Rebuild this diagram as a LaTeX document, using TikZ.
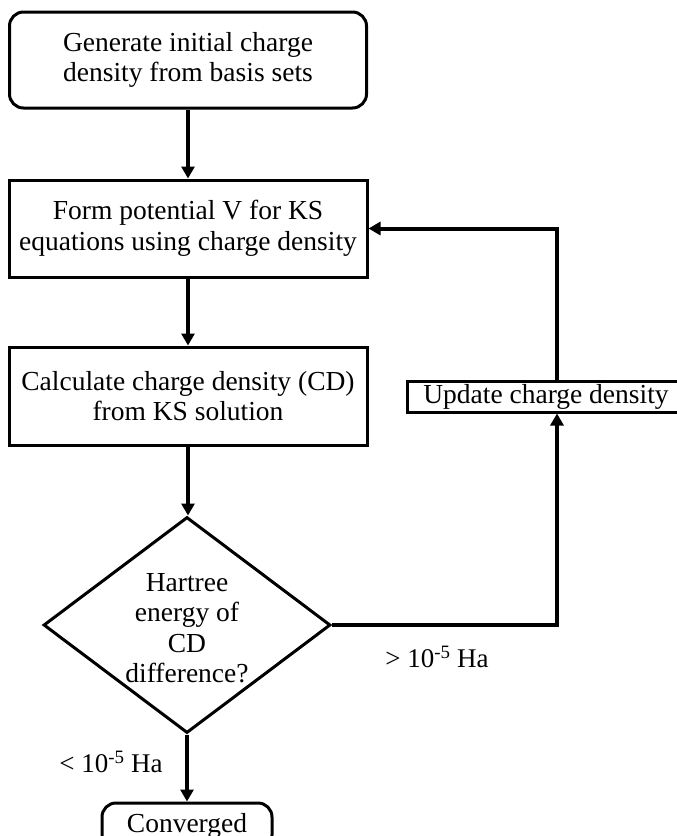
\documentclass[tikz,border=0pt]{standalone}
\usepackage{fontspec}
\setmainfont{Liberation Serif}
\usetikzlibrary{shapes.geometric,arrows.meta}
\begin{document}
\begin{tikzpicture}[x=1pt,y=-1pt,
  every node/.style={font=\fontsize{27.5}{30.5}\selectfont, align=center, inner sep=0pt},
  box/.style={draw, line width=3pt, minimum width=#1, fill=white},
  rbox/.style={box=#1, rounded corners=14pt},
  dia/.style={draw, diamond, line width=3pt, minimum width=287pt, minimum height=216pt, inner sep=0pt},
  conn/.style={line width=4pt, -{Triangle[width=13pt,length=12pt]}},
  lbl/.style={font=\fontsize{27}{30}\selectfont}
]
\clip (0,0) rectangle (677,836);
\fill[white] (0,0) rectangle (677,836);

\node[rbox=357pt, minimum height=96pt] (g1) at (188,60) {Generate initial charge\\density from basis sets};
\node[box=358pt, minimum height=97pt] (f2) at (188,228.5) {Form potential V for KS\\equations using charge density};
\node[box=358pt, minimum height=98pt] (c3) at (188,396) {Calculate charge density (CD)\\from KS solution};
\node[dia] (d4) at (187,625) {};
\node (d4t) at (187,628) {Hartree\\energy of\\CD\\difference?};
\node[box=278pt, minimum height=31pt] (up5) at (546,396.5) {Update charge density};
\node[rbox=170pt, minimum height=46pt] (conv) at (187,826) {Converged};
\coordinate (rx) at (557,0);

\draw[conn] (g1.south) -- (f2.north);
\draw[conn] (f2.south) -- (c3.north);
\draw[conn] (c3.south) -- (c3.south |- d4.north);
\draw[conn] (d4.east) -| (up5.south -| rx);
\draw[conn] (up5.north -| rx) |- (f2.east);
\draw[conn] (d4.south) -- (conv.north);

\node[lbl] (gt) at (437,657) {> 10\textsuperscript{-5} Ha};
\node[lbl] (lt) at (111,762) {< 10\textsuperscript{-5} Ha};
\end{tikzpicture}
\end{document}
